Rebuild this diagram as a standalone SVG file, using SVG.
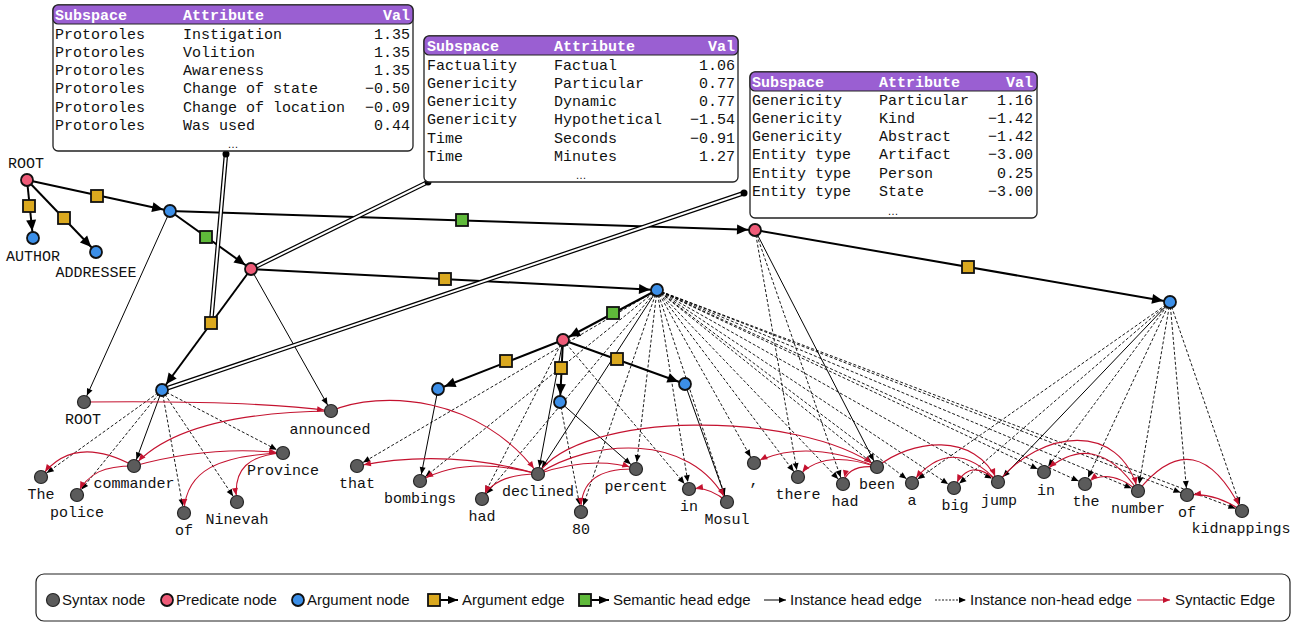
<svg xmlns="http://www.w3.org/2000/svg" width="1304" height="623" viewBox="0 0 1304 623">
<style>
.syn{fill:#5b5b5b;stroke:#262626;stroke-width:1.2}
.pred{fill:#ef5b78;stroke:#111;stroke-width:1.8}
.arg{fill:#3c8fe8;stroke:#111;stroke-width:1.8}
.ysq{fill:#dba91f;stroke:#111;stroke-width:1.8}
.gsq{fill:#5fba3a;stroke:#111;stroke-width:1.8}
.thick{stroke:#000;stroke-width:2;fill:none;marker-end:url(#ah)}
.ih{stroke:#000;stroke-width:1;fill:none;marker-end:url(#at)}
.inh{stroke:#000;stroke-width:0.9;fill:none;stroke-dasharray:3 2;marker-end:url(#at)}
.sx{stroke:#c4122f;stroke-width:1.1;fill:none;marker-end:url(#ar)}
.dbo{stroke:#000;stroke-width:4.5;fill:none}
.dbi{stroke:#fff;stroke-width:2;fill:none}
.lbl{font-family:"Liberation Mono","DejaVu Sans Mono",monospace;font-size:15px;text-anchor:middle;fill:#111}
.tb{font-family:"Liberation Mono","DejaVu Sans Mono",monospace;font-size:15px;fill:#111}
.th{font-family:"Liberation Mono","DejaVu Sans Mono",monospace;font-size:15px;font-weight:bold;fill:#fff}
.r{text-anchor:end}
.box{fill:#fff;stroke:#222;stroke-width:1.3}
.hdr{fill:#9a5fd2;stroke:#222;stroke-width:1.2}
.ell{font-family:"Liberation Sans",Arial,sans-serif;font-size:11px;text-anchor:middle;fill:#111}
.lg{font-family:"Liberation Sans",Arial,sans-serif;font-size:15px;fill:#111}
</style>
<defs>
<marker id="ah" markerUnits="userSpaceOnUse" markerWidth="20" markerHeight="12" refX="18" refY="5" orient="auto" overflow="visible"><path d="M0,0 L11,5 L0,10 z" fill="#000"/></marker>
<marker id="at" markerUnits="userSpaceOnUse" markerWidth="16" markerHeight="8" refX="14" refY="3" orient="auto" overflow="visible"><path d="M0,0 L7,3 L0,6 z" fill="#000"/></marker>
<marker id="ar" markerUnits="userSpaceOnUse" markerWidth="16" markerHeight="8" refX="14" refY="3" orient="auto" overflow="visible"><path d="M0,0 L7,3 L0,6 z" fill="#c4122f"/></marker>
<marker id="ahl" markerUnits="userSpaceOnUse" markerWidth="12" markerHeight="10" refX="10" refY="4" orient="auto" overflow="visible"><path d="M0,0 L10,4 L0,8 z" fill="#000"/></marker>
<marker id="atl" markerUnits="userSpaceOnUse" markerWidth="8" markerHeight="8" refX="7" refY="3" orient="auto" overflow="visible"><path d="M0,0 L7,3 L0,6 z" fill="#000"/></marker>
<marker id="arl" markerUnits="userSpaceOnUse" markerWidth="8" markerHeight="8" refX="7" refY="3" orient="auto" overflow="visible"><path d="M0,0 L7,3 L0,6 z" fill="#c4122f"/></marker>
</defs>

<g id="connectors">
<g id="instance-head-edges">
<line class="ih" x1="170" y1="211" x2="84" y2="402"/>
<line class="ih" x1="251" y1="269" x2="331" y2="411"/>
<line class="ih" x1="162" y1="390" x2="134" y2="466"/>
<line class="ih" x1="657" y1="290" x2="538" y2="474"/>
<line class="ih" x1="563" y1="340" x2="538" y2="474"/>
<line class="ih" x1="438" y1="389" x2="420" y2="481"/>
<line class="ih" x1="560" y1="402" x2="636" y2="469"/>
<line class="ih" x1="685" y1="384" x2="727" y2="502"/>
<line class="ih" x1="755" y1="230" x2="877" y2="467"/>
<line class="ih" x1="1170" y1="302" x2="998" y2="482"/>
</g>
<g id="instance-nonhead-edges">
<line class="inh" x1="162" y1="390" x2="41" y2="477"/>
<line class="inh" x1="162" y1="390" x2="77" y2="495"/>
<line class="inh" x1="162" y1="390" x2="184" y2="513"/>
<line class="inh" x1="162" y1="390" x2="237" y2="502"/>
<line class="inh" x1="162" y1="390" x2="283" y2="453"/>
<line class="inh" x1="563" y1="340" x2="482" y2="499"/>
<line class="inh" x1="563" y1="340" x2="689" y2="489"/>
<line class="inh" x1="560" y1="402" x2="581" y2="512"/>
<line class="inh" x1="755" y1="230" x2="798" y2="477"/>
<line class="inh" x1="755" y1="230" x2="843" y2="484"/>
<line class="inh" x1="1170" y1="302" x2="912" y2="483"/>
<line class="inh" x1="1170" y1="302" x2="954" y2="488"/>
<line class="inh" x1="1170" y1="302" x2="1044" y2="472"/>
<line class="inh" x1="1170" y1="302" x2="1085" y2="484"/>
<line class="inh" x1="1170" y1="302" x2="1138" y2="491"/>
<line class="inh" x1="1170" y1="302" x2="1187" y2="495"/>
<line class="inh" x1="1170" y1="302" x2="1242" y2="511"/>
<line class="inh" x1="657" y1="290" x2="357" y2="466"/>
<line class="inh" x1="657" y1="290" x2="420" y2="481"/>
<line class="inh" x1="657" y1="290" x2="482" y2="499"/>
<line class="inh" x1="657" y1="290" x2="581" y2="512"/>
<line class="inh" x1="657" y1="290" x2="636" y2="469"/>
<line class="inh" x1="657" y1="290" x2="689" y2="489"/>
<line class="inh" x1="657" y1="290" x2="727" y2="502"/>
<line class="inh" x1="657" y1="290" x2="754" y2="463"/>
<line class="inh" x1="657" y1="290" x2="798" y2="477"/>
<line class="inh" x1="657" y1="290" x2="843" y2="484"/>
<line class="inh" x1="657" y1="290" x2="877" y2="467"/>
<line class="inh" x1="657" y1="290" x2="912" y2="483"/>
<line class="inh" x1="657" y1="290" x2="954" y2="488"/>
<line class="inh" x1="657" y1="290" x2="998" y2="482"/>
<line class="inh" x1="657" y1="290" x2="1044" y2="472"/>
<line class="inh" x1="657" y1="290" x2="1085" y2="484"/>
<line class="inh" x1="657" y1="290" x2="1138" y2="491"/>
<line class="inh" x1="657" y1="290" x2="1187" y2="495"/>
<line class="inh" x1="657" y1="290" x2="1242" y2="511"/>
</g>
<g id="syntactic-edges">
<path class="sx" d="M84,402 Q250,400 331,411"/>
<path class="sx" d="M331,411 C250,412 170,425 134,466"/>
<path class="sx" d="M331,411 C380,390 480,395 538,474"/>
<path class="sx" d="M134,466 Q73,433 41,477"/>
<path class="sx" d="M134,466 C105,466 88,472 77,495"/>
<path class="sx" d="M134,466 Q210,445 283,453"/>
<path class="sx" d="M283,453 C220,455 185,470 184,513"/>
<path class="sx" d="M283,453 C250,455 232,468 237,502"/>
<path class="sx" d="M538,474 Q447,448 357,466"/>
<path class="sx" d="M538,474 Q465,455 420,481"/>
<path class="sx" d="M538,474 C510,474 490,482 482,499"/>
<path class="sx" d="M538,474 Q593,455 636,469"/>
<path class="sx" d="M538,474 C590,440 690,430 727,502"/>
<path class="sx" d="M538,474 C580,410 800,410 877,467"/>
<path class="sx" d="M636,469 C600,468 580,480 581,512"/>
<path class="sx" d="M727,502 Q710,486 689,489"/>
<path class="sx" d="M877,467 Q805,437 754,463"/>
<path class="sx" d="M877,467 Q822,448 798,477"/>
<path class="sx" d="M877,467 C858,465 846,470 843,484"/>
<path class="sx" d="M877,467 C910,440 975,430 998,482"/>
<path class="sx" d="M998,482 Q951,432 912,483"/>
<path class="sx" d="M998,482 Q970,455 954,488"/>
<path class="sx" d="M998,482 C1040,430 1120,420 1138,491"/>
<path class="sx" d="M1138,491 Q1095,427 1044,472"/>
<path class="sx" d="M1138,491 Q1108,466 1085,484"/>
<path class="sx" d="M1138,491 Q1196,419 1242,511"/>
<path class="sx" d="M1242,511 Q1215,492 1187,495"/>
</g>
<g id="semantic-edges">
<line class="thick" x1="27" y1="180" x2="170" y2="211"/>
<line class="thick" x1="27" y1="180" x2="33" y2="238"/>
<line class="thick" x1="27" y1="180" x2="96" y2="252"/>
<line class="thick" x1="170" y1="211" x2="251" y2="269"/>
<line class="thick" x1="170" y1="211" x2="755" y2="230"/>
<line class="thick" x1="251" y1="269" x2="162" y2="390"/>
<line class="thick" x1="251" y1="269" x2="657" y2="290"/>
<line class="thick" x1="755" y1="230" x2="1170" y2="302"/>
<line class="thick" x1="657" y1="290" x2="563" y2="340"/>
<line class="thick" x1="563" y1="340" x2="438" y2="389"/>
<line class="thick" x1="563" y1="340" x2="560" y2="402"/>
<line class="thick" x1="563" y1="340" x2="685" y2="384"/>
</g>
<g id="attribute-links">
<path class="dbo" d="M226,154 L211,323"/><path class="dbi" d="M226,154 L211,323"/>
<path class="dbo" d="M428,182 L251,269"/><path class="dbi" d="M428,182 L251,269"/>
<path class="dbo" d="M744,193 L162,390"/><path class="dbi" d="M744,193 L162,390"/>
<circle cx="226" cy="154" r="3.5" fill="#000"/>
<circle cx="428" cy="182" r="3.5" fill="#000"/>
<circle cx="744" cy="193" r="3.5" fill="#000"/>
</g>
</g>

<g id="edge-squares">
<rect class="ysq" x="91" y="190" width="12" height="12"/>
<rect class="ysq" x="23" y="200" width="12" height="12"/>
<rect class="ysq" x="58" y="212" width="12" height="12"/>
<rect class="gsq" x="200" y="231" width="12" height="12"/>
<rect class="gsq" x="456" y="214" width="12" height="12"/>
<rect class="ysq" x="205" y="317" width="12" height="12"/>
<rect class="ysq" x="439" y="273" width="12" height="12"/>
<rect class="ysq" x="962" y="261" width="12" height="12"/>
<rect class="gsq" x="607" y="307" width="12" height="12"/>
<rect class="ysq" x="500" y="355" width="12" height="12"/>
<rect class="ysq" x="555" y="362" width="12" height="12"/>
<rect class="ysq" x="611" y="353" width="12" height="12"/>
</g>

<g id="semantic-nodes">
<g id="n-root"><circle class="pred" cx="27" cy="180" r="6"/><text class="lbl" x="26" y="168">ROOT</text></g>
<g id="n-author"><circle class="arg" cx="33" cy="238" r="6"/><text class="lbl" x="33" y="261">AUTHOR</text></g>
<g id="n-addressee"><circle class="arg" cx="96" cy="252" r="6"/><text class="lbl" x="96" y="277">ADDRESSEE</text></g>
<g id="n-arg1"><circle class="arg" cx="170" cy="211" r="6"/></g>
<g id="n-pred-announced"><circle class="pred" cx="251" cy="269" r="6"/></g>
<g id="n-arg-commander"><circle class="arg" cx="162" cy="390" r="6"/></g>
<g id="n-pred-been"><circle class="pred" cx="755" cy="230" r="6"/></g>
<g id="n-arg-clause"><circle class="arg" cx="657" cy="290" r="6"/></g>
<g id="n-pred-declined"><circle class="pred" cx="563" cy="340" r="6"/></g>
<g id="n-arg-bombings"><circle class="arg" cx="438" cy="389" r="6"/></g>
<g id="n-arg-percent"><circle class="arg" cx="560" cy="402" r="6"/></g>
<g id="n-arg-mosul"><circle class="arg" cx="685" cy="384" r="6"/></g>
<g id="n-arg-jump"><circle class="arg" cx="1170" cy="302" r="6"/></g>
</g>

<g id="syntax-nodes">
<g id="t-root"><circle class="syn" cx="84" cy="402" r="6.5"/><text class="lbl" x="83" y="424">ROOT</text></g>
<g id="t-the"><circle class="syn" cx="41" cy="477" r="6.5"/><text class="lbl" x="41" y="499">The</text></g>
<g id="t-police"><circle class="syn" cx="77" cy="495" r="6.5"/><text class="lbl" x="77" y="517">police</text></g>
<g id="t-commander"><circle class="syn" cx="134" cy="466" r="6.5"/><text class="lbl" x="134" y="488">commander</text></g>
<g id="t-of"><circle class="syn" cx="184" cy="513" r="6.5"/><text class="lbl" x="184" y="535">of</text></g>
<g id="t-ninevah"><circle class="syn" cx="237" cy="502" r="6.5"/><text class="lbl" x="237" y="524">Ninevah</text></g>
<g id="t-province"><circle class="syn" cx="283" cy="453" r="6.5"/><text class="lbl" x="283" y="475">Province</text></g>
<g id="t-announced"><circle class="syn" cx="331" cy="411" r="6.5"/><text class="lbl" x="330" y="434">announced</text></g>
<g id="t-that"><circle class="syn" cx="357" cy="466" r="6.5"/><text class="lbl" x="357" y="488">that</text></g>
<g id="t-bombings"><circle class="syn" cx="420" cy="481" r="6.5"/><text class="lbl" x="420" y="503">bombings</text></g>
<g id="t-had"><circle class="syn" cx="482" cy="499" r="6.5"/><text class="lbl" x="482" y="521">had</text></g>
<g id="t-declined"><circle class="syn" cx="538" cy="474" r="6.5"/><text class="lbl" x="538" y="496">declined</text></g>
<g id="t-80"><circle class="syn" cx="581" cy="512" r="6.5"/><text class="lbl" x="581" y="534">80</text></g>
<g id="t-percent"><circle class="syn" cx="636" cy="469" r="6.5"/><text class="lbl" x="636" y="491">percent</text></g>
<g id="t-in"><circle class="syn" cx="689" cy="489" r="6.5"/><text class="lbl" x="689" y="511">in</text></g>
<g id="t-mosul"><circle class="syn" cx="727" cy="502" r="6.5"/><text class="lbl" x="727" y="524">Mosul</text></g>
<g id="t-comma"><circle class="syn" cx="754" cy="463" r="6.5"/><text class="lbl" x="754" y="485">,</text></g>
<g id="t-there"><circle class="syn" cx="798" cy="477" r="6.5"/><text class="lbl" x="798" y="499">there</text></g>
<g id="t-had2"><circle class="syn" cx="843" cy="484" r="6.5"/><text class="lbl" x="845" y="506">had</text></g>
<g id="t-been"><circle class="syn" cx="877" cy="467" r="6.5"/><text class="lbl" x="877" y="489">been</text></g>
<g id="t-a"><circle class="syn" cx="912" cy="483" r="6.5"/><text class="lbl" x="912" y="505">a</text></g>
<g id="t-big"><circle class="syn" cx="954" cy="488" r="6.5"/><text class="lbl" x="955" y="510">big</text></g>
<g id="t-jump"><circle class="syn" cx="998" cy="482" r="6.5"/><text class="lbl" x="999" y="505">jump</text></g>
<g id="t-in2"><circle class="syn" cx="1044" cy="472" r="6.5"/><text class="lbl" x="1046" y="495">in</text></g>
<g id="t-the2"><circle class="syn" cx="1085" cy="484" r="6.5"/><text class="lbl" x="1086" y="506">the</text></g>
<g id="t-number"><circle class="syn" cx="1138" cy="491" r="6.5"/><text class="lbl" x="1138" y="513">number</text></g>
<g id="t-of2"><circle class="syn" cx="1187" cy="495" r="6.5"/><text class="lbl" x="1187" y="517">of</text></g>
<g id="t-kidnappings"><circle class="syn" cx="1242" cy="511" r="6.5"/><text class="lbl" x="1241" y="533">kidnappings</text></g>
</g>

<g id="table-protoroles">
<rect class="box" x="53" y="5" width="360" height="146" rx="5"/>
<rect class="hdr" x="53" y="5" width="360" height="19" rx="5"/>
<text class="th" x="55" y="20">Subspace</text><text class="th" x="183" y="20">Attribute</text><text class="th r" x="410" y="20">Val</text>
<text class="tb" x="55" y="38.5">Protoroles</text><text class="tb" x="183" y="38.5">Instigation</text><text class="tb r" x="410" y="38.5">1.35</text>
<text class="tb" x="55" y="56.8">Protoroles</text><text class="tb" x="183" y="56.8">Volition</text><text class="tb r" x="410" y="56.8">1.35</text>
<text class="tb" x="55" y="75.1">Protoroles</text><text class="tb" x="183" y="75.1">Awareness</text><text class="tb r" x="410" y="75.1">1.35</text>
<text class="tb" x="55" y="93.4">Protoroles</text><text class="tb" x="183" y="93.4">Change of state</text><text class="tb r" x="410" y="93.4">−0.50</text>
<text class="tb" x="55" y="111.7">Protoroles</text><text class="tb" x="183" y="111.7">Change of location</text><text class="tb r" x="410" y="111.7">−0.09</text>
<text class="tb" x="55" y="130">Protoroles</text><text class="tb" x="183" y="130">Was used</text><text class="tb r" x="410" y="130">0.44</text>
<text class="ell" x="233" y="148">…</text>
</g>

<g id="table-predicate">
<rect class="box" x="424" y="36" width="314" height="146" rx="5"/>
<rect class="hdr" x="424" y="36" width="314" height="19" rx="5"/>
<text class="th" x="427" y="51">Subspace</text><text class="th" x="554" y="51">Attribute</text><text class="th r" x="735" y="51">Val</text>
<text class="tb" x="427" y="69.5">Factuality</text><text class="tb" x="554" y="69.5">Factual</text><text class="tb r" x="735" y="69.5">1.06</text>
<text class="tb" x="427" y="87.8">Genericity</text><text class="tb" x="554" y="87.8">Particular</text><text class="tb r" x="735" y="87.8">0.77</text>
<text class="tb" x="427" y="106.1">Genericity</text><text class="tb" x="554" y="106.1">Dynamic</text><text class="tb r" x="735" y="106.1">0.77</text>
<text class="tb" x="427" y="124.4">Genericity</text><text class="tb" x="554" y="124.4">Hypothetical</text><text class="tb r" x="735" y="124.4">−1.54</text>
<text class="tb" x="427" y="142.7">Time</text><text class="tb" x="554" y="142.7">Seconds</text><text class="tb r" x="735" y="142.7">−0.91</text>
<text class="tb" x="427" y="161">Time</text><text class="tb" x="554" y="161">Minutes</text><text class="tb r" x="735" y="161">1.27</text>
<text class="ell" x="581" y="179">…</text>
</g>

<g id="table-argument">
<rect class="box" x="750" y="72" width="287" height="146" rx="5"/>
<rect class="hdr" x="750" y="72" width="287" height="19" rx="5"/>
<text class="th" x="752" y="87">Subspace</text><text class="th" x="879" y="87">Attribute</text><text class="th r" x="1033" y="87">Val</text>
<text class="tb" x="752" y="104.5">Genericity</text><text class="tb" x="879" y="104.5">Particular</text><text class="tb r" x="1033" y="104.5">1.16</text>
<text class="tb" x="752" y="122.8">Genericity</text><text class="tb" x="879" y="122.8">Kind</text><text class="tb r" x="1033" y="122.8">−1.42</text>
<text class="tb" x="752" y="141.1">Genericity</text><text class="tb" x="879" y="141.1">Abstract</text><text class="tb r" x="1033" y="141.1">−1.42</text>
<text class="tb" x="752" y="159.4">Entity type</text><text class="tb" x="879" y="159.4">Artifact</text><text class="tb r" x="1033" y="159.4">−3.00</text>
<text class="tb" x="752" y="177.7">Entity type</text><text class="tb" x="879" y="177.7">Person</text><text class="tb r" x="1033" y="177.7">0.25</text>
<text class="tb" x="752" y="196">Entity type</text><text class="tb" x="879" y="196">State</text><text class="tb r" x="1033" y="196">−3.00</text>
<text class="ell" x="893" y="215">…</text>
</g>

<g id="legend">
<rect x="36" y="574" width="1254" height="47" rx="8" fill="#fff" stroke="#222" stroke-width="1.2"/>
<circle class="syn" cx="53" cy="600" r="6.5"/><text class="lg" x="62" y="605">Syntax node</text>
<circle class="pred" cx="167" cy="600" r="6"/><text class="lg" x="176" y="605">Predicate node</text>
<circle class="arg" cx="298" cy="600" r="6"/><text class="lg" x="307" y="605">Argument node</text>
<line x1="440" y1="600" x2="458" y2="600" stroke="#000" stroke-width="2" marker-end="url(#ahl)"/>
<rect class="ysq" x="428" y="594" width="12" height="12"/><text class="lg" x="462" y="605">Argument edge</text>
<line x1="591" y1="600" x2="609" y2="600" stroke="#000" stroke-width="2" marker-end="url(#ahl)"/>
<rect class="gsq" x="579" y="594" width="12" height="12"/><text class="lg" x="613" y="605">Semantic head edge</text>
<line x1="764" y1="600" x2="786" y2="600" stroke="#000" stroke-width="1" marker-end="url(#atl)"/>
<text class="lg" x="790" y="605">Instance head edge</text>
<line x1="935" y1="600" x2="966" y2="600" stroke="#000" stroke-width="0.9" stroke-dasharray="2 1.5" marker-end="url(#atl)"/>
<text class="lg" x="970" y="605">Instance non-head edge</text>
<line x1="1137" y1="600" x2="1170" y2="600" stroke="#c4122f" stroke-width="1.1" marker-end="url(#arl)"/>
<text class="lg" x="1175" y="605">Syntactic Edge</text>
</g>
</svg>
